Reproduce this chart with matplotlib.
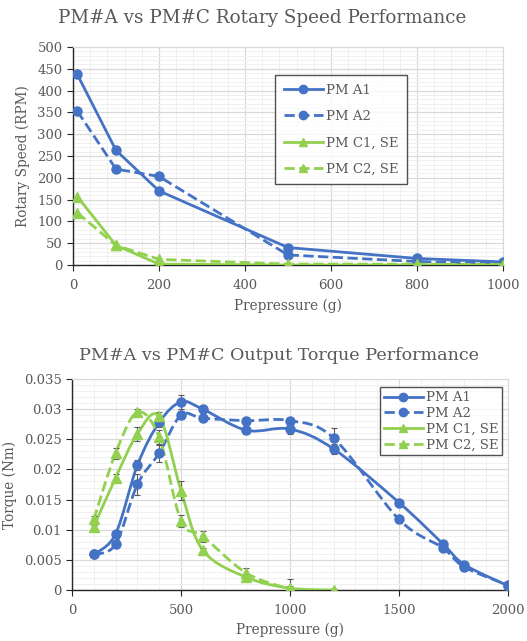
import numpy as np
import matplotlib
matplotlib.use("Agg")
import matplotlib.pyplot as plt
from matplotlib.path import Path
from matplotlib.patches import PathPatch
from matplotlib.lines import Line2D
from matplotlib.ticker import MultipleLocator

plt.rcParams["font.family"] = ["DejaVu Serif"]

BLUE = "#4472C4"
GREEN = "#92D050"
TEXT = "#595959"

# ---- Rotary speed data ----
speed_x = [10, 100, 200, 500, 800, 1000]
speed_a1 = [437, 263, 170, 40, 15, 7]
speed_a2 = [353, 220, 203, 23, 8, 3]
speed_c1 = [157, 45, 2, 0, 0, 0]
speed_c2 = [120, 45, 13, 2, 2, 1]

# ---- Output torque data ----
torque_x = [100, 200, 300, 400, 500, 600, 800, 1000, 1200, 1500, 1700, 1800, 2000]
torque_a1 = [0.0059, 0.0093, 0.0207, 0.0278, 0.0312, 0.0300, 0.0265, 0.0267, 0.0234,
             0.0145, 0.0077, 0.0042, 0.0007]
torque_a1_err = [0.0002, 0.0005, 0.0008, 0.0007, 0.0012, 0.0005, 0.0006, 0.0008, 0.0008,
                 0.0003, 0.0005, 0.0003, 0.0003]
torque_a2 = [0.0059, 0.0076, 0.0175, 0.0227, 0.0290, 0.0285, 0.0281, 0.0281, 0.0252,
             0.0117, 0.0070, 0.0038, 0.0008]
torque_a2_err = [0.0002, 0.0007, 0.0017, 0.0015, 0.0007, 0.0005, 0.0006, 0.0005, 0.0016,
                 0.0006, 0.0006, 0.0004, 0.0003]
torque_cx1 = [100, 200, 300, 400, 500, 600, 800, 1000, 1200]
torque_c1 = [0.0105, 0.0186, 0.0259, 0.0288, 0.0165, 0.0066, 0.0021, 0.0003, 0.0000]
torque_c1_err = [0.0003, 0.0007, 0.0012, 0.0007, 0.0015, 0.0004, 0.0006, 0.0004, 0.0001]
torque_cx2 = [100, 200, 300, 400, 500, 600, 800, 1000]
torque_c2 = [0.0117, 0.0227, 0.0295, 0.0253, 0.0115, 0.0089, 0.0028, 0.0001]
torque_c2_err = [0.0005, 0.0009, 0.0005, 0.0013, 0.0010, 0.0009, 0.0008, 0.0017]


def smooth_path(x, y):
    # Excel-style smoothed line: cubic Bezier through points (Catmull-Rom, tension 1/6)
    pts = np.column_stack([x, y]).astype(float)
    n = len(pts)
    verts = [pts[0]]
    codes = [Path.MOVETO]
    for i in range(n - 1):
        p0 = pts[max(i - 1, 0)]
        p1 = pts[i]
        p2 = pts[i + 1]
        p3 = pts[min(i + 2, n - 1)]
        verts += [p1 + (p2 - p0) / 6, p2 - (p3 - p1) / 6, p2]
        codes += [Path.CURVE4] * 3
    return Path(verts, codes)


def style_axes(ax):
    ax.grid(True, which="major", color="#D9D9D9", linewidth=0.9, zorder=0)
    ax.grid(True, which="minor", color="#F0F0F0", linewidth=0.7, zorder=0)
    ax.set_axisbelow(True)
    for side in ["top", "right"]:
        ax.spines[side].set_color("#D9D9D9")
    for side in ["left", "bottom"]:
        ax.spines[side].set_color("#262626")
        ax.spines[side].set_linewidth(1.0)
    ax.tick_params(which="major", direction="out", length=4, width=0.8,
                   colors="#262626", labelcolor=TEXT, labelsize=9.5)
    ax.tick_params(which="minor", length=0)
    ax.tick_params(axis="x", pad=6)


def make_handles(labels):
    styles = [(BLUE, "-", "o"), (BLUE, "--", "o"), (GREEN, "-", "^"), (GREEN, "--", "^")]
    return [Line2D([], [], color=c, linestyle=ls, marker=m, markersize=6, linewidth=2,
                   label=lab) for (c, ls, m), lab in zip(styles, labels)]


labels = ["PM A1", "PM A2", "PM C1, SE", "PM C2, SE"]

fig = plt.figure(figsize=(5.27, 6.41), dpi=100)

# ---- Top chart ----
ax1 = fig.add_axes([0.1385, 0.5866, 0.816, 0.3401])
ax1.plot(speed_x, speed_a1, color=BLUE, linestyle="-", marker="o", markersize=6.5, linewidth=2, zorder=3)
ax1.plot(speed_x, speed_a2, color=BLUE, linestyle="--", marker="o", markersize=6.5, linewidth=2, zorder=3)
ax1.plot(speed_x, speed_c1, color=GREEN, linestyle="-", marker="^", markersize=6.5, linewidth=2, zorder=3)
ax1.plot(speed_x, speed_c2, color=GREEN, linestyle="--", marker="^", markersize=6.5, linewidth=2, zorder=3)
ax1.set_xlim(0, 1000)
ax1.set_ylim(0, 500)
ax1.xaxis.set_major_locator(MultipleLocator(200))
ax1.xaxis.set_minor_locator(MultipleLocator(40))
ax1.yaxis.set_major_locator(MultipleLocator(50))
ax1.yaxis.set_minor_locator(MultipleLocator(10))
style_axes(ax1)
fig.text(0.497, 1 - 18 / 641, "PM#A vs PM#C Rotary Speed Performance", fontsize=13.2,
         color=TEXT, ha="center", va="center")
ax1.set_xlabel("Prepressure (g)", fontsize=9.8, color=TEXT, labelpad=5)
ax1.set_ylabel("Rotary Speed (RPM)", fontsize=9.8, color=TEXT, labelpad=5)
leg1 = ax1.legend(handles=make_handles(labels), loc="upper left", bbox_to_anchor=(0.47, 0.87),
                  fontsize=9.5, frameon=True, fancybox=False, edgecolor="#262626",
                  labelspacing=1.0, handlelength=3.0, handletextpad=0.2, borderpad=0.65,
                  labelcolor=TEXT, borderaxespad=0)
leg1.get_frame().set_linewidth(1.0)

# ---- Bottom chart ----
ax2 = fig.add_axes([0.1366, 0.0796, 0.8274, 0.3291])
series = [
    (torque_x, torque_a1, torque_a1_err, BLUE, "-", "o"),
    (torque_x, torque_a2, torque_a2_err, BLUE, "--", "o"),
    (torque_cx1, torque_c1, torque_c1_err, GREEN, "-", "^"),
    (torque_cx2, torque_c2, torque_c2_err, GREEN, "--", "^"),
]
for x, y, err, color, ls, mk in series:
    patch = PathPatch(smooth_path(x, y), facecolor="none", edgecolor=color,
                      linestyle=ls, linewidth=2, zorder=3)
    ax2.add_patch(patch)
    ax2.errorbar(x, y, yerr=err, fmt=mk, color=color, markersize=6.5,
                 ecolor="#595959", elinewidth=0.8, capsize=2.5, capthick=0.8, zorder=4)
ax2.set_xlim(0, 2000)
ax2.set_ylim(0, 0.035)
ax2.xaxis.set_major_locator(MultipleLocator(500))
ax2.xaxis.set_minor_locator(MultipleLocator(100))
ax2.yaxis.set_major_locator(MultipleLocator(0.005))
ax2.yaxis.set_minor_locator(MultipleLocator(0.001))
ax2.yaxis.set_major_formatter(plt.FuncFormatter(lambda v, p: "0" if v == 0 else f"{v:g}"))
style_axes(ax2)
fig.text(0.53, 1 - 355 / 641, "PM#A vs PM#C Output Torque Performance", fontsize=12.6,
         color=TEXT, ha="center", va="center")
ax2.set_xlabel("Prepressure (g)", fontsize=9.8, color=TEXT, labelpad=4)
ax2.set_ylabel("Torque (Nm)", fontsize=9.8, color=TEXT, labelpad=5)
leg2 = ax2.legend(handles=make_handles(labels), loc="upper right", bbox_to_anchor=(0.987, 0.96),
                  fontsize=9.5, frameon=True, fancybox=False, edgecolor="#262626",
                  labelspacing=0.2, handlelength=3.0, handletextpad=0.2, borderpad=0.3,
                  labelcolor=TEXT, borderaxespad=0)
leg2.get_frame().set_linewidth(1.0)

fig.savefig("out.png", dpi=100)
